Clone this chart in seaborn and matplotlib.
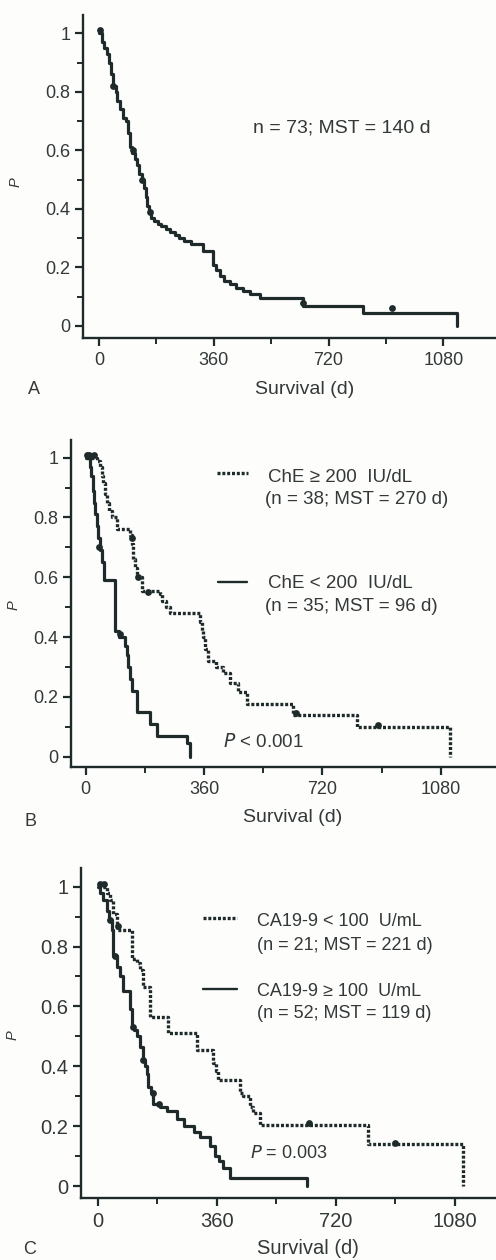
import numpy as np
import pandas as pd
import matplotlib
matplotlib.use("Agg")
import matplotlib.pyplot as plt
import seaborn as sns

sns.set_style("ticks")
plt.rcParams['font.family'] = ['Liberation Sans', 'DejaVu Sans']

INK = "#1f2b2b"
TXT = "#333838"

# ---- data (days, survival probability) ----
# Panel A: all patients
a_t = [0, 10, 16, 24, 30, 38, 44, 52, 58, 66, 74, 86, 92, 97, 104, 112, 118, 126, 134,
       140, 146, 152, 158, 164, 172, 184, 196, 210, 224, 238, 252, 268, 290, 306, 327,
       358, 368, 380, 392, 411, 430, 453, 474, 505, 641, 829, 1122]
a_s = [1.0, 0.97, 0.95, 0.93, 0.90, 0.86, 0.82, 0.80, 0.77, 0.74, 0.71, 0.70, 0.66, 0.61,
       0.59, 0.57, 0.55, 0.52, 0.50, 0.47, 0.44, 0.41, 0.39, 0.37, 0.36, 0.35, 0.34, 0.33,
       0.32, 0.31, 0.30, 0.29, 0.28, 0.28, 0.255, 0.21, 0.19, 0.17, 0.155, 0.145, 0.13,
       0.12, 0.11, 0.095, 0.07, 0.045, 0.0]
a_cens_t = [4, 45, 108, 134, 160, 641, 918]
a_cens_s = [1.01, 0.82, 0.60, 0.50, 0.39, 0.08, 0.06]

# Panel B: cholinesterase
b_hi_t = [0, 35, 44, 50, 54, 60, 64, 72, 79, 94, 135, 140, 145, 150, 155, 170, 226, 231,
          245, 257, 348, 353, 358, 363, 373, 398, 419, 439, 464, 490, 632, 824, 1108]
b_hi_s = [1.0, 0.99, 0.97, 0.94, 0.915, 0.88, 0.85, 0.82, 0.80, 0.76, 0.74, 0.71, 0.66,
          0.63, 0.60, 0.555, 0.545, 0.52, 0.50, 0.48, 0.45, 0.42, 0.40, 0.36, 0.32, 0.30,
          0.28, 0.245, 0.215, 0.175, 0.14, 0.10, 0.0]
b_hi_cens_t = [10, 25, 140, 160, 190, 640, 890]
b_hi_cens_s = [1.01, 1.01, 0.73, 0.60, 0.55, 0.145, 0.105]

b_lo_t = [0, 12, 17, 21, 25, 29, 34, 39, 44, 50, 55, 90, 101, 120, 125, 130, 135, 140,
          155, 196, 216, 307, 317]
b_lo_s = [1.0, 0.97, 0.94, 0.89, 0.85, 0.81, 0.77, 0.73, 0.69, 0.65, 0.59, 0.42, 0.40,
          0.37, 0.34, 0.30, 0.26, 0.22, 0.15, 0.11, 0.07, 0.045, 0.0]
b_lo_cens_t = [5, 40, 105]
b_lo_cens_s = [1.01, 0.70, 0.41]

# Panel C: CA19-9
c_lo_t = [0, 27, 37, 47, 57, 103, 118, 128, 138, 158, 214, 299, 350, 358, 365, 430, 440,
          460, 470, 491, 818, 1105]
c_lo_s = [1.0, 0.98, 0.955, 0.91, 0.855, 0.76, 0.745, 0.72, 0.665, 0.565, 0.51, 0.455,
          0.41, 0.385, 0.355, 0.31, 0.30, 0.265, 0.245, 0.205, 0.14, 0.0]
c_lo_cens_t = [20, 60, 640, 900]
c_lo_cens_s = [1.01, 0.87, 0.21, 0.145]

c_hi_t = [0, 7, 17, 27, 35, 42, 47, 57, 67, 78, 98, 103, 110, 118, 128, 138, 143, 148,
          153, 160, 168, 188, 209, 239, 260, 290, 309, 340, 355, 367, 380, 400, 632]
c_hi_s = [1.0, 0.98, 0.955, 0.92, 0.89, 0.855, 0.77, 0.73, 0.70, 0.65, 0.59, 0.53, 0.52,
          0.50, 0.465, 0.42, 0.40, 0.375, 0.33, 0.31, 0.275, 0.265, 0.25, 0.225, 0.20,
          0.18, 0.165, 0.135, 0.10, 0.085, 0.06, 0.028, 0.0]
c_hi_cens_t = [8, 37, 52, 108, 138, 168, 185]
c_hi_cens_s = [1.01, 0.89, 0.77, 0.53, 0.42, 0.31, 0.275]

x_major = [0, 360, 720, 1080]
x_minor = [180, 540, 900]
y_major = [0, 0.2, 0.4, 0.6, 0.8, 1.0]
y_major_labels = ["0", "0.2", "0.4", "0.6", "0.8", "1"]
y_minor = [0.1, 0.3, 0.5, 0.7, 0.9]

W, H = 496, 1260
fig = plt.figure(figsize=(W / 100, H / 100), dpi=100)
fig.patch.set_facecolor("#fdfdfc")

DOTS = (0, (0.9, 0.55))


def px(x, y):
    return x / W, 1 - y / H


def add_panel(left, top, bottom, x0_px, x1080_px, y1_px, y0_px, tick_fs=13):
    ax = fig.add_axes([left / W, 1 - bottom / H, (W - left) / W, (bottom - top) / H])
    ax.set_facecolor("none")
    sx = (x1080_px - x0_px) / 1080
    ax.set_xlim((left - x0_px) / sx, (W - x0_px) / sx)
    sy = y0_px - y1_px
    ax.set_ylim((y0_px - bottom) / sy, (y0_px - top) / sy)
    ax.set_xticks(x_major)
    ax.set_xticks(x_minor, minor=True)
    ax.set_yticks(y_major)
    ax.set_yticklabels(y_major_labels)
    ax.set_yticks(y_minor, minor=True)
    ax.tick_params(which="major", length=6, width=1.6, color=INK, labelsize=tick_fs,
                   labelcolor=TXT, pad=3)
    ax.tick_params(which="minor", length=4, width=1.4, color=INK)
    ax.tick_params(axis="x", which="major", pad=4)
    for s in ["top", "right"]:
        ax.spines[s].set_visible(False)
    for s in ["left", "bottom"]:
        ax.spines[s].set_linewidth(1.7)
        ax.spines[s].set_color(INK)
    ax.set_xlabel("")
    ax.set_ylabel("")
    return ax


def km(ax, t, s, ct, cs, dotted=False):
    df = pd.DataFrame({"t": t, "s": s})
    if dotted:
        sns.lineplot(data=df, x="t", y="s", ax=ax, drawstyle="steps-post", sort=False,
                     estimator=None, color=INK, linewidth=2.4, linestyle=DOTS,
                     dash_capstyle="butt")
    else:
        sns.lineplot(data=df, x="t", y="s", ax=ax, drawstyle="steps-post", sort=False,
                     estimator=None, color=INK, linewidth=2.3)
    sns.scatterplot(x=ct, y=cs, ax=ax, s=24, color=INK, linewidth=0, zorder=3)
    ax.set_xlabel("")
    ax.set_ylabel("")


# ---- Panel A ----
axA = add_panel(83, 15, 338, 99, 443.3, 33.3, 326, tick_fs=13)
km(axA, a_t, a_s, a_cens_t, a_cens_s)
fig.text(*px(342, 128), "n = 73; MST = 140 d", fontsize=14, color=TXT,
         ha="center", va="center")
fig.text(*px(305, 389), "Survival (d)", fontsize=14, color=TXT, ha="center", va="center")
fig.text(*px(16, 182), "P", fontsize=10.5, color=TXT, style="italic", rotation=90,
         ha="center", va="center")
fig.text(*px(34, 390), "A", fontsize=13, color=TXT, ha="center", va="center")

# ---- Panel B ----
axB = add_panel(71, 440, 767, 85.67, 440.67, 457.67, 756.67, tick_fs=13)
km(axB, b_hi_t, b_hi_s, b_hi_cens_t, b_hi_cens_s, dotted=True)
km(axB, b_lo_t, b_lo_s, b_lo_cens_t, b_lo_cens_s)
fig.add_artist(plt.Line2D([217 / W, 248 / W], [1 - 473 / H] * 2, color=INK, lw=2.4,
                          linestyle=DOTS, dash_capstyle="butt"))
fig.add_artist(plt.Line2D([218 / W, 247 / W], [1 - 582 / H] * 2, color=INK, lw=1.7))
fig.text(*px(268, 478), "ChE \u2265 200  IU/dL", fontsize=13.5, color=TXT, va="center")
fig.text(*px(265, 500), "(n = 38; MST = 270 d)", fontsize=13.5, color=TXT, va="center")
fig.text(*px(268, 583), "ChE < 200  IU/dL", fontsize=13.5, color=TXT, va="center")
fig.text(*px(265, 606), "(n = 35; MST = 96 d)", fontsize=13.5, color=TXT, va="center")
fig.text(*px(223, 742), "$\\it{P}$ < 0.001", fontsize=13.5, color=TXT, va="center")
fig.text(*px(293, 818), "Survival (d)", fontsize=14, color=TXT, ha="center", va="center")
fig.text(*px(14, 605), "P", fontsize=10.5, color=TXT, style="italic", rotation=90,
         ha="center", va="center")
fig.text(*px(30, 821), "B", fontsize=13, color=TXT, ha="center", va="center")

# ---- Panel C ----
axC = add_panel(81, 868, 1198, 97.67, 455, 886.67, 1186, tick_fs=14.5)
km(axC, c_lo_t, c_lo_s, c_lo_cens_t, c_lo_cens_s, dotted=True)
km(axC, c_hi_t, c_hi_s, c_hi_cens_t, c_hi_cens_s)
fig.add_artist(plt.Line2D([203 / W, 237 / W], [1 - 918 / H] * 2, color=INK, lw=2.4,
                          linestyle=DOTS, dash_capstyle="butt"))
fig.add_artist(plt.Line2D([203 / W, 237 / W], [1 - 989 / H] * 2, color=INK, lw=1.7))
fig.text(*px(257, 922), "CA19-9 < 100  U/mL", fontsize=13, color=TXT, va="center")
fig.text(*px(257, 945), "(n = 21; MST = 221 d)", fontsize=13, color=TXT, va="center")
fig.text(*px(257, 992), "CA19-9 \u2265 100  U/mL", fontsize=13, color=TXT, va="center")
fig.text(*px(257, 1014), "(n = 52; MST = 119 d)", fontsize=13, color=TXT, va="center")
fig.text(*px(250, 1153), "$\\it{P}$ = 0.003", fontsize=13, color=TXT, va="center")
fig.text(*px(308, 1248), "Survival (d)", fontsize=14.5, color=TXT, ha="center", va="center")
fig.text(*px(13, 1035), "P", fontsize=10.5, color=TXT, style="italic", rotation=90,
         ha="center", va="center")
fig.text(*px(30, 1250), "C", fontsize=13, color=TXT, ha="center", va="center")

fig.savefig("out.png", dpi=100, facecolor=fig.get_facecolor())
